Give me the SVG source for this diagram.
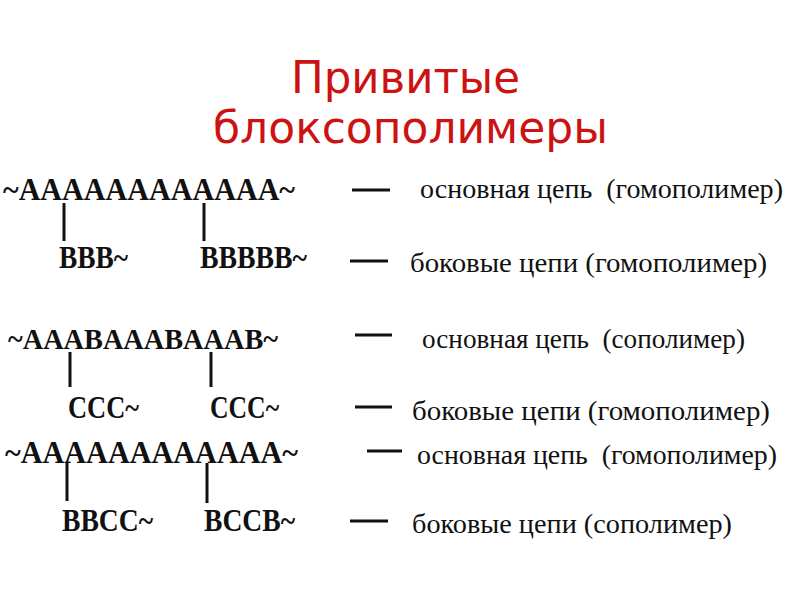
<svg xmlns="http://www.w3.org/2000/svg" width="800" height="600" viewBox="0 0 800 600">
<style>
.title{font-family:"DejaVu Sans",sans-serif;font-size:44px;fill:#cc1212}
.chain{font-family:"Liberation Serif","Times New Roman",serif;font-weight:bold;fill:#111}
.lbl{font-family:"Liberation Serif","Times New Roman",serif;font-size:28px;fill:#111;white-space:pre}
.ln{stroke:#111;stroke-width:3;fill:none}
</style>
<rect width="800" height="600" fill="#fff"/>
<g id="title">
<text class="title" x="291" y="93" textLength="229" lengthAdjust="spacingAndGlyphs">Привитые</text>
<text class="title" x="213" y="143" textLength="395" lengthAdjust="spacingAndGlyphs">блоксополимеры</text>
</g>
<g id="row1">
<text class="chain" x="3" y="200" font-size="32" textLength="292" lengthAdjust="spacingAndGlyphs">~AAAAAAAAAAAA~</text>
<text class="chain" x="59" y="268" font-size="32" textLength="69" lengthAdjust="spacingAndGlyphs">BBB~</text>
<text class="chain" x="200" y="268" font-size="32" textLength="107" lengthAdjust="spacingAndGlyphs">BBBBB~</text>
<text class="lbl" x="420" y="198" xml:space="preserve" textLength="363" lengthAdjust="spacingAndGlyphs">основная цепь  (гомополимер)</text>
<text class="lbl" x="410" y="272" textLength="357" lengthAdjust="spacingAndGlyphs">боковые цепи (гомополимер)</text>
</g>
<g id="row2">
<text class="chain" x="8" y="349" font-size="30" textLength="270" lengthAdjust="spacingAndGlyphs">~AAABAAABAAAB~</text>
<text class="chain" x="68" y="418" font-size="31" textLength="71" lengthAdjust="spacingAndGlyphs">CCC~</text>
<text class="chain" x="210" y="418" font-size="31" textLength="69" lengthAdjust="spacingAndGlyphs">CCC~</text>
<text class="lbl" x="422" y="348" xml:space="preserve" textLength="323" lengthAdjust="spacingAndGlyphs">основная цепь  (сополимер)</text>
<text class="lbl" x="412" y="420" textLength="358" lengthAdjust="spacingAndGlyphs">боковые цепи (гомополимер)</text>
</g>
<g id="row3">
<text class="chain" x="5" y="463" font-size="32" textLength="293" lengthAdjust="spacingAndGlyphs">~AAAAAAAAAAAA~</text>
<text class="chain" x="62" y="531" font-size="32" textLength="91" lengthAdjust="spacingAndGlyphs">BBCC~</text>
<text class="chain" x="204" y="531" font-size="32" textLength="91" lengthAdjust="spacingAndGlyphs">BCCB~</text>
<text class="lbl" x="417" y="464" xml:space="preserve" textLength="360" lengthAdjust="spacingAndGlyphs">основная цепь  (гомополимер)</text>
<text class="lbl" x="412" y="533" textLength="320" lengthAdjust="spacingAndGlyphs">боковые цепи (сополимер)</text>
</g>
<g id="connectors">
<line class="ln" x1="64" y1="203" x2="64" y2="241"/>
<line class="ln" x1="204" y1="203" x2="204" y2="241"/>
<line class="ln" x1="352" y1="190" x2="390" y2="190"/>
<line class="ln" x1="350" y1="261" x2="388" y2="261"/>
<line class="ln" x1="70" y1="352" x2="70" y2="387"/>
<line class="ln" x1="211" y1="352" x2="211" y2="387"/>
<line class="ln" x1="355" y1="335" x2="392" y2="335"/>
<line class="ln" x1="355" y1="407" x2="392" y2="407"/>
<line class="ln" x1="67" y1="463" x2="67" y2="501"/>
<line class="ln" x1="207" y1="463" x2="207" y2="503"/>
<line class="ln" x1="367" y1="451" x2="402" y2="451"/>
<line class="ln" x1="350" y1="521" x2="388" y2="521"/>
</g>
</svg>
